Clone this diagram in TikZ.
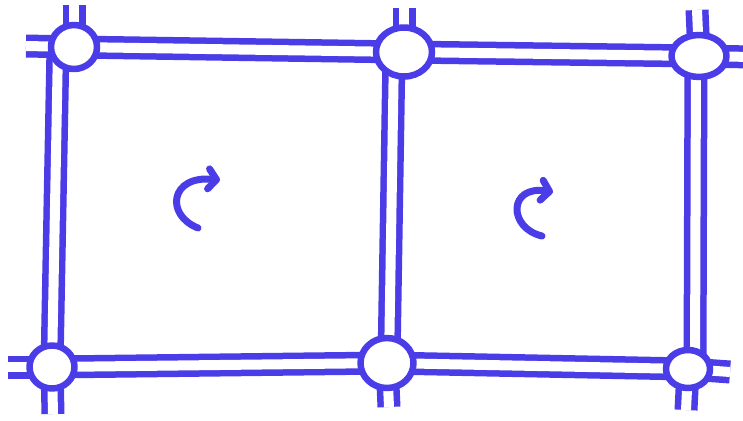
\documentclass[tikz,border=0pt]{standalone}
\usetikzlibrary{arrows.meta,shapes.geometric,backgrounds}
\definecolor{marker}{HTML}{4A3CE6}
\begin{document}
\begin{tikzpicture}[
  x=1pt,y=-1pt,
  line cap=butt,line join=round,
  junction/.style 2 args={ellipse,draw=marker,line width=6.5pt,fill=white,
                inner sep=0pt,minimum width=#1,minimum height=#2},
  rail/.style={draw=marker,line width=6.5pt,double=white,double distance=10pt},
  turn/.style={draw=marker,line width=7pt,line cap=round,
               -{Straight Barb[length=8pt,width=20pt,line cap=round,line join=round]}}
]
\useasboundingbox (0,0) rectangle (743,420);
\node[junction={46pt}{44pt}] (tl) at (74,47) {};
\node[junction={56pt}{49pt}] (tm) at (404,52) {};
\node[junction={55pt}{42pt}] (tr) at (699,56) {};
\node[junction={45pt}{43pt}] (bl) at (52,367) {};
\node[junction={53pt}{50pt}] (bm) at (387,363) {};
\node[junction={44pt}{38pt}] (br) at (688,369) {};
\coordinate (tlup) at (74,5);
\coordinate (tlleft) at (26,46);
\coordinate (tmup) at (404,8);
\coordinate (trup) at (697,10);
\coordinate (tright) at (752,57);
\coordinate (blleft) at (8,367);
\coordinate (bldown) at (53,414);
\coordinate (bmdown) at (389,407);
\coordinate (brright) at (730,372);
\coordinate (brdown) at (686,410);
\begin{scope}[on background layer]
\draw[rail] (tl.center) -- (tm.center);
\draw[rail] (tm.center) -- (tr.center);
\draw[rail] (bl.center) -- (bm.center);
\draw[rail] (bm.center) -- (br.center);
\draw[rail] ([xshift=-16pt]tl.center) -- (bl.center);
\draw[rail] ([xshift=-10pt]tm.center) -- ([xshift=2pt]bm.center);
\draw[rail] ([xshift=-3pt]tr.center) -- ([xshift=7pt]br.center);
\draw[rail] (tl.center) -- (tlup);
\draw[rail] (tl.center) -- (tlleft);
\draw[rail] (tm.center) -- (tmup);
\draw[rail] (tr.center) -- (trup);
\draw[rail] (tr.center) -- (tright);
\draw[rail] (bl.center) -- (blleft);
\draw[rail] (bl.center) -- (bldown);
\draw[rail] (bm.center) -- (bmdown);
\draw[rail] (br.center) -- (brright);
\draw[rail] (br.center) -- (brdown);
\end{scope}
\draw[turn] (198,228) .. controls (165,215) and (170,175) .. (220,180);
\draw[turn] (542,236) .. controls (508,228) and (508,185) .. (553,192);
\end{tikzpicture}
\end{document}
